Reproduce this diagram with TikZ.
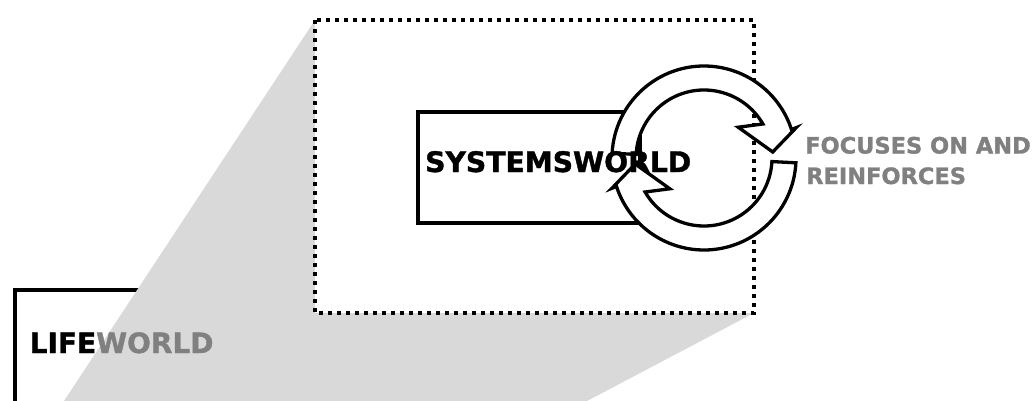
\documentclass[tikz,border=0pt]{standalone}
\usepackage{fontspec}
\usetikzlibrary{calc}
\newfontfamily\dvb{DejaVu Sans}[BoldFeatures={FakeBold=1.3}]
\definecolor{projgray}{HTML}{D9D9D9}
\definecolor{txtgray}{HTML}{808080}
\begin{document}
\begin{tikzpicture}[x=1pt,y=-1pt,
  thickbox/.style={draw=black,line width=4.2pt,fill=white},
  dotbox/.style={draw=black,line width=3.5pt,fill=white,dash pattern=on 4pt off 5pt},
  cyclearrow/.style={draw=black,line width=3.3pt,fill=white,line join=miter},
  lbl/.style={inner sep=0pt,anchor=base west,font=\dvb\bfseries}]
\useasboundingbox (0,0) rectangle (1032,401);
\clip (0,0) rectangle (1032,401);
% lifeworld box (partly off page)
\draw[thickbox] (15,290) rectangle (200,430);
% gray projection
\fill[projgray] (315,20) -- (754,313) -- (587,401) -- (64,401) -- cycle;
% dotted zoom frame
\draw[dotbox] (315,20) rectangle (754,313);
% systemsworld box
\draw[thickbox] (418,112) rectangle (640,223);
% circular arrows
\coordinate (C) at (704,158);
\draw[cyclearrow] ($(C)+(-177:92)$) arc[start angle=-177,end angle=-18,radius=92]
  -- ($(C)+(-18.2:97)$) -- ($(C)+(-5:69)$) -- ($(C)+(-42:46)$) -- ($(C)+(-30:68)$)
  arc[start angle=-30,end angle=-177,radius=68] -- cycle;
\draw[cyclearrow] ($(C)+(3:92)$) arc[start angle=3,end angle=162,radius=92]
  -- ($(C)+(161.8:97)$) -- ($(C)+(175:69)$) -- ($(C)+(138:46)$) -- ($(C)+(150:68)$)
  arc[start angle=150,end angle=3,radius=68] -- cycle;
% texts
\node[lbl,font=\dvb\bfseries\fontsize{28.2}{32}\selectfont] (sys) at (425,172) {SYSTEMSWORLD};
\node[lbl,font=\dvb\bfseries\fontsize{28}{32}\selectfont] (life) at (29.5,353) {LIFE\textcolor{txtgray}{WORLD}};
\node[lbl,text=txtgray,font=\dvb\bfseries\fontsize{22.5}{25}\selectfont] (foc1) at (805,153.5) {FOCUSES ON AND};
\node[lbl,text=txtgray,font=\dvb\bfseries\fontsize{22.5}{25}\selectfont] (foc2) at (806,184) {REINFORCES};
\end{tikzpicture}
\end{document}
